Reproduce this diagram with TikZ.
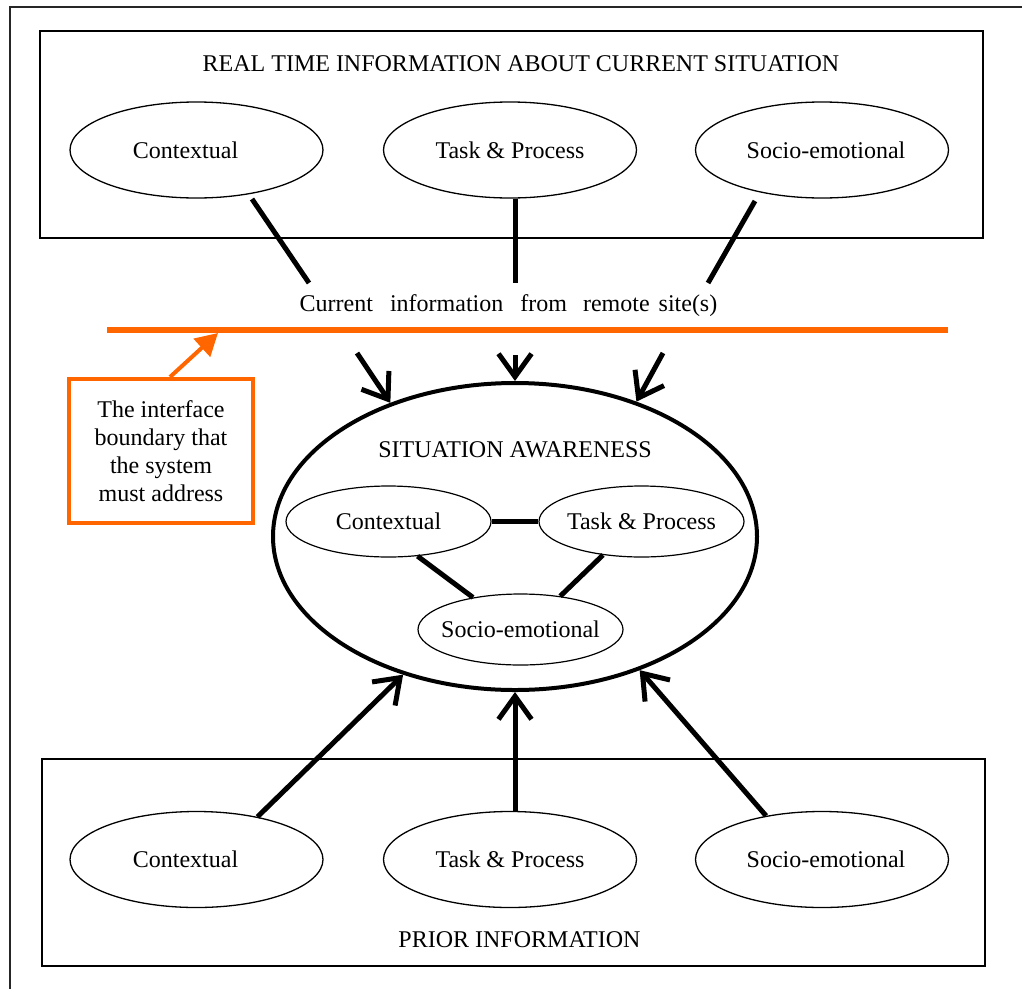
\documentclass[tikz,border=0pt]{standalone}
\usepackage{fontspec}
\setmainfont{Liberation Serif}
\usetikzlibrary{arrows.meta,shapes.geometric,calc}
\definecolor{orng}{RGB}{255,102,0}
\newcommand\zw[1]{\makebox[0pt]{#1}}
\begin{document}
\begin{tikzpicture}[x=1pt,y=-1pt,
  font=\fontsize{24}{28}\selectfont,
  thinbox/.style={draw,line width=1.5pt},
  oval/.style={ellipse,draw,line width=1.3pt,minimum width=253pt,minimum height=96pt,inner sep=0pt},
  smalloval/.style={ellipse,draw,line width=1.2pt,minimum width=205pt,minimum height=71pt,inner sep=0pt},
  bigoval/.style={ellipse,draw,line width=4pt,minimum width=484pt,minimum height=307pt,inner sep=0pt},
  link/.style={line width=5pt},
  feed/.style={line width=5pt,-{Straight Barb[length=23pt,width=33pt]}},
  callout/.style={draw=orng,line width=4pt,minimum width=184pt,minimum height=144pt,inner sep=0pt,align=center},
  pointer/.style={draw=orng,line width=4pt,-{Triangle[length=22pt,width=24pt,fill=orng]}}]
\useasboundingbox (0,0) rectangle (1022,988);
% outer frame (cropped)
\draw[line width=1.5pt,black!85] (10,990) -- (10,7) -- (1024,7);
% top box
\draw[thinbox] (40,31) rectangle (983,238);
\node (ttl) at (521,64) {REAL TIME INFORMATION ABOUT CURRENT SITUATION};
\node[oval] (cT) at (196.5,150) {\zw{\hspace{-22pt}Contextual}};
\node[oval] (tT) at (510,150) {\zw{Task \& Process}};
\node[oval] (sT) at (822,150) {\zw{\hspace{8pt}Socio-emotional}};
% bottom box
\draw[thinbox] (42,759) rectangle (985,966);
\node[oval] (cB) at (196.5,859.5) {\zw{\hspace{-22pt}Contextual}};
\node[oval] (tB) at (510,859.5) {\zw{Task \& Process}};
\node[oval] (sB) at (822,859.5) {\zw{\hspace{8pt}Socio-emotional}};
\node (pri) at (519.5,940) {PRIOR INFORMATION};
% current information
\node (cur) at (508.5,306) {Current\hspace{17pt}information\hspace{17pt}from\hspace{16pt}remote\hspace{9pt}site(s)};
\coordinate (c1) at (309,283);
\coordinate (c2) at (515,283);
\coordinate (c3) at (708,283);
\draw[link] ($(cT.center)+(55.5,49)$) -- (c1);
\draw[link] (c2 |- tT.south) -- (c2);
\draw[link] ($(sT.center)+(-67,51)$) -- (c3);
% interface boundary
\coordinate (ol1) at (107,330);
\coordinate (ol2) at (948,330);
\draw[orng,line width=6pt] (ol1) -- (ol2);
\node[callout] (cb) at (161,451) {The interface\\boundary that\\the system\\must address};
\coordinate (ob) at (218,333);
\draw[pointer] ($(cb.north)+(9,0)$) -- (ob);
% situation awareness
\node[bigoval] (sa) at (515,536.5) {};
\node (sat) at (515,450) {SITUATION AWARENESS};
\node[smalloval] (ci) at (388.5,521.5) {\zw{Contextual}};
\node[smalloval] (ti) at (641.5,521.5) {\zw{Task \& Process}};
\node[smalloval] (si) at (520.5,629.5) {\zw{Socio-emotional}};
\draw[link] (ci.east) -- (ti.west);
\draw[link] (ci.-50) -- (si.146);
\draw[link] (ti.-139) -- (si.40);
% arrows from current information
\coordinate (a1) at (357,353);
\coordinate (a2) at (515,355);
\coordinate (a3) at (663,353);
\draw[feed] (a1) -- (sa.133.5);
\draw[feed] (a2) -- (sa.north);
\draw[feed] (a3) -- (sa.48.3);
% arrows from prior information
\draw[feed] (cB.35.7) -- (sa.-129);
\draw[feed] (sa.south |- tB.north) -- (sa.south);
\draw[feed] (sB.142) -- (sa.-47);
\end{tikzpicture}
\end{document}
